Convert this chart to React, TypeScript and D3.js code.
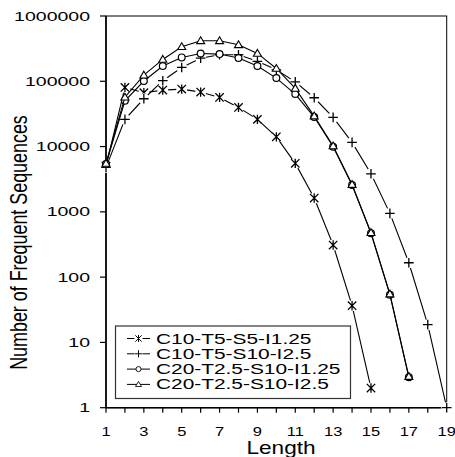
import React from 'react';
import * as d3 from 'd3';

// values (log scale)
const seriesNames = ['C10-T5-S5-I1.25', 'C10-T5-S10-I2.5', 'C20-T2.5-S10-I1.25', 'C20-T2.5-S10-I2.5'];
const markerTypes = ['asterisk', 'plus', 'circle', 'triangle'];

const asteriskValues = [5000, 80600, 66700, 73300, 75900, 68300, 56600, 39800, 26100, 14100, 5530, 1626, 310, 36.5, 2];
const plusValues = [4800, 26100, 54000, 102000, 163000, 226000, 255000, 255000, 202000, 150000, 98000, 55900, 28000, 11600, 3830, 948, 166, 18.7, 1];
const circleValues = [5400, 50200, 101000, 171000, 232000, 267000, 261000, 227000, 171000, 112000, 63700, 28300, 9930, 2570, 469, 53.8, 2.92];
const triangleValues = [5500, 57000, 124000, 216000, 338000, 417000, 417000, 362000, 267000, 157000, 77800, 29300, 10200, 2620, 480, 55, 3];

const allValues = [asteriskValues, plusValues, circleValues, triangleValues];

const xTicks = d3.range(1, 20);
const xTickLabels = [1, 3, 5, 7, 9, 11, 13, 15, 17, 19];
const yTicks = [1, 10, 100, 1000, 10000, 100000, 1000000];

const FONT = "'Liberation Sans', Arial, Helvetica, sans-serif";

const SText = ({ x, y, sx, size, anchor, rotate, children }: any) => (
  <text
    transform={`translate(${x},${y}) scale(${sx},1)${rotate ? ` rotate(${rotate})` : ''}`}
    fontSize={size}
    textAnchor={anchor}
    fontFamily={FONT}
    fill="#000"
  >
    {children}
  </text>
);

const Marker = ({ type, cx, cy }: any) => {
  if (type === 'asterisk') {
    const r = 4.2;
    return (
      <g>
        <circle cx={cx} cy={cy} r={5.5} fill="#fff" />
        <path
          d={`M${cx - r},${cy - r}L${cx + r},${cy + r}M${cx - r},${cy + r}L${cx + r},${cy - r}M${cx},${cy - r - 0.5}L${cx},${cy + r + 0.5}`}
          stroke="#000"
          strokeWidth={1.3}
        />
      </g>
    );
  }
  if (type === 'plus') {
    const r = 4.8;
    return (
      <g>
        <circle cx={cx} cy={cy} r={5.5} fill="#fff" />
        <path d={`M${cx - r},${cy}L${cx + r},${cy}M${cx},${cy - r}L${cx},${cy + r}`} stroke="#000" strokeWidth={1.3} />
      </g>
    );
  }
  if (type === 'circle') {
    return <circle cx={cx} cy={cy} r={3.4} fill="#fff" stroke="#000" strokeWidth={1.2} />;
  }
  const s = 4;
  return (
    <path
      d={`M${cx},${cy - s}L${cx + s},${cy + s * 0.7}L${cx - s},${cy + s * 0.7}Z`}
      fill="#fff"
      stroke="#000"
      strokeWidth={1.1}
    />
  );
};

export default function App() {
  const width = 455;
  const height = 457;
  const left = 106, right = 446.7, top = 16, bottom = 407.7;

  const x = d3.scaleLinear().domain([1, 19]).range([left, right]);
  const y = d3.scaleLog().domain([1, 1e6]).range([bottom, top]);

  const line = d3.line<number>()
    .x((d, i) => x(i + 1))
    .y((d) => y(d));

  const legendRows = seriesNames.map((_, i) => 338.5 + i * 15.3);

  return (
    <svg
      width={width}
      height={height}
      style={{ position: 'absolute', left: 0, top: 0, background: '#fff' }}
    >
      <rect x={0} y={0} width={width} height={height} fill="#fff" />

      {/* frame */}
      <rect x={left} y={top} width={right - left} height={bottom - top} fill="none" stroke="#000" strokeWidth={1} />
      <line x1={left} x2={left} y1={top} y2={bottom} stroke="#000" strokeWidth={1.6} />
      <line x1={left} x2={right} y1={bottom} y2={bottom} stroke="#000" strokeWidth={1.6} />

      {/* y axis */}
      {yTicks.map((t) => (
        <g key={t}>
          <line x1={left - 6} x2={left} y1={y(t)} y2={y(t)} stroke="#000" strokeWidth={1.2} />
          <SText x={90} y={y(t) + 4.6} sx={1.5} size={13} anchor="end">{String(t)}</SText>
        </g>
      ))}

      {/* x axis */}
      {xTicks.map((t) => (
        <line key={t} x1={x(t)} x2={x(t)} y1={bottom} y2={bottom + 5} stroke="#000" strokeWidth={1.2} />
      ))}
      {xTickLabels.map((t) => (
        <SText key={t} x={x(t)} y={435.5} sx={1.22} size={13.5} anchor="middle">{String(t)}</SText>
      ))}

      <SText x={281} y={454} sx={1.23} size={18.4} anchor="middle">Length</SText>
      <SText x={26.7} y={242.5} sx={1.3} size={17.9} anchor="middle" rotate={-90}>Number of Frequent Sequences</SText>

      {/* series */}
      {allValues.map((vals, si) => (
        <g key={si}>
          <path d={line(vals) || ''} fill="none" stroke="#000" strokeWidth={1.1} />
          {vals.map((v, i) => (
            <Marker key={i} type={markerTypes[si]} cx={x(i + 1)} cy={y(v)} />
          ))}
        </g>
      ))}

      {/* legend */}
      <rect x={115.5} y={326} width={235} height={72.5} fill="#fff" stroke="#333" strokeWidth={1.2} />
      {seriesNames.map((name, i) => (
        <g key={name}>
          <line x1={127} x2={150} y1={legendRows[i]} y2={legendRows[i]} stroke="#000" strokeWidth={1} />
          <g transform={`translate(${138.5},${legendRows[i]}) scale(0.75)`}>
            <Marker type={markerTypes[i]} cx={0} cy={0} />
          </g>
          <SText x={156} y={legendRows[i] + 5} sx={1.45} size={14.4} anchor="start">{name}</SText>
        </g>
      ))}
    </svg>
  );
}
